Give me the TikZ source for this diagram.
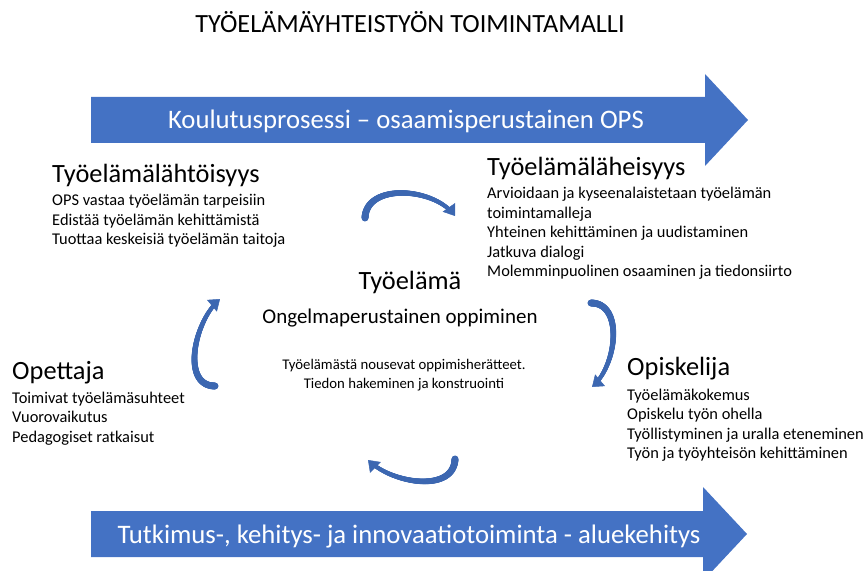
\documentclass[tikz,border=0pt]{standalone}
\usepackage{fontspec}
\setmainfont{Carlito}
\usetikzlibrary{positioning,arrows.meta,decorations.markings}
\definecolor{bandblue}{HTML}{4472C4}
\definecolor{cycblue}{HTML}{3C67B1}

\begin{document}
\begin{tikzpicture}[x=0.03cm, y=-0.03cm,
    hdr/.style={font=\fontsize{22.5}{26}\selectfont, inner sep=0pt},
    lst/.style={font=\fontsize{14}{16.6}\selectfont, align=left, inner sep=0pt},
    band/.style={fill=bandblue},
    bandtext/.style={text=white, font=\fontsize{22.8}{26}\selectfont, inner sep=0pt},
    cyc/.style={decorate, decoration={markings,
        mark=between positions 0 and -7pt step 0.4pt with {%
            \pgfmathsetmacro\cycr{3.0-1.4*\pgfkeysvalueof{/pgf/decoration/mark info/distance from start}/\pgfdecoratedpathlength}%
            \fill[cycblue] (0,0) circle (\cycr pt);},
        mark=at position 1 with {\arrow[cycblue]{Triangle[length=9pt,width=13pt]}}}}]
    \useasboundingbox (0,0) rectangle (864,571);

    \node (title) at (410,22) {\fontsize{22.4}{26}\selectfont TYÖELÄMÄYHTEISTYÖN TOIMINTAMALLI};

    % yläreunan nuoli
    \fill[band] (91,97) -- (705,97) -- (705,74) -- (748,120) -- (705,166) -- (705,143) -- (91,143) -- cycle;
    \node[bandtext] (ops) at (406,121) {Koulutusprosessi – osaamisperustainen OPS};

    % alareunan nuoli
    \fill[band] (91,511) -- (703,511) -- (703,487) -- (747,534) -- (703,581) -- (703,557) -- (91,557) -- cycle;
    \node[bandtext] (tki) at (409,537) {Tutkimus-, kehitys- ja innovaatiotoiminta - aluekehitys};

    \node[hdr, anchor=west] (lahto) at (52,175) {Työelämälähtöisyys};
    \node[lst, below=6.5pt of lahto.south west, anchor=north west] (lahtoL) {OPS vastaa työelämän tarpeisiin\\
        Edistää työelämän kehittämistä\\
        Tuottaa keskeisiä työelämän taitoja};

    \node[hdr, anchor=west] (lahei) at (487,168) {Työelämäläheisyys};
    \node[lst, below=6.5pt of lahei.south west, anchor=north west] (laheiL) {Arvioidaan ja kyseenalaistetaan työelämän\\
        toimintamalleja\\
        Yhteinen kehittäminen ja uudistaminen\\
        Jatkuva dialogi\\
        Molemminpuolinen osaaminen ja tiedonsiirto};

    \node[hdr] (tyoelama) at (410,282) {Työelämä};
    \node[font=\fontsize{17.9}{21}\selectfont, inner sep=0pt] (ongelma) at (400,318) {Ongelmaperustainen oppiminen};
    \node[lst, align=center, font=\fontsize{12.6}{16.2}\selectfont] (heratteet) at (404,375) {Työelämästä nousevat oppimisherätteet.\\
        Tiedon hakeminen ja konstruointi};

    \node[hdr, anchor=west] (opettaja) at (12,373) {Opettaja};
    \node[lst, below=6pt of opettaja.south west, anchor=north west] (opettajaL) {Toimivat työelämäsuhteet\\
        Vuorovaikutus\\
        Pedagogiset ratkaisut};

    \node[hdr, anchor=west] (opiskelija) at (627,369) {Opiskelija};
    \node[lst, below=7pt of opiskelija.south west, anchor=north west] (opiskelijaL) {Työelämäkokemus\\
        Opiskelu työn ohella\\
        Työllistyminen ja uralla eteneminen\\
        Työn ja työyhteisön kehittäminen};

    % kiertonuolet
    \coordinate (c1a) at (365,218);
    \coordinate (c1b) at (455,216);
    \coordinate (c2a) at (591,303);
    \coordinate (c2b) at (592,387);
    \coordinate (c3a) at (455,459);
    \coordinate (c3b) at (368,460);
    \coordinate (c4a) at (215,386);
    \coordinate (c4b) at (220,299);
    \path[cyc] (c1a) to[out=88,in=125] (c1b);
    \path[cyc] (c2a) to[out=0,in=40] (c2b);
    \path[cyc] (c3a) to[out=-92,in=-45] (c3b);
    \path[cyc] (c4a) to[out=180,in=220] (c4b);
\end{tikzpicture}
\end{document}
